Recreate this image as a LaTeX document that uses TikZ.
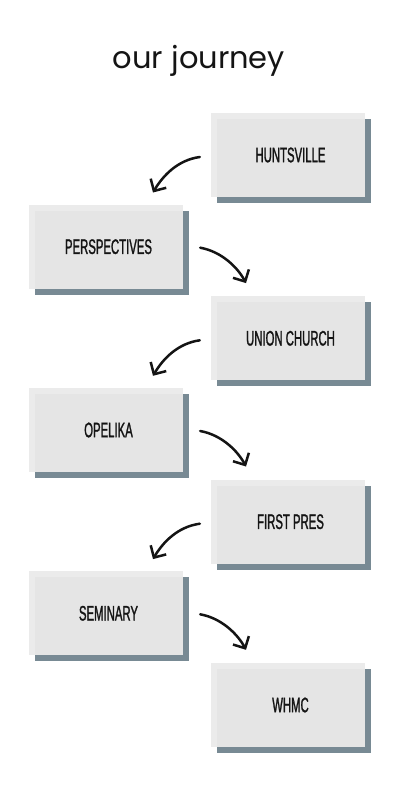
\documentclass[tikz,border=0pt]{standalone}
\usepackage{fontspec}
\usetikzlibrary{arrows.meta,shadows,calc}
\newfontfamily\titlefont{Poppins}
\newfontfamily\boxfont[FakeStretch=0.54,FakeBold=1.2]{Liberation Sans}
\definecolor{boxlight}{HTML}{EBEBEB}
\definecolor{boxmain}{HTML}{E5E5E5}
\definecolor{shadowcol}{HTML}{788A94}
\definecolor{ink}{HTML}{141414}
\begin{document}
\begin{tikzpicture}[x=1pt,y=-1pt,
  stepbox/.style={minimum width=154pt, minimum height=84pt, inner sep=0pt,
    fill=boxlight, text=ink,
    font=\boxfont\fontsize{21}{22}\selectfont,
    general shadow={fill=shadowcol, shadow xshift=6pt, shadow yshift=-6pt},
    path picture={\fill[boxmain] ([xshift=6pt]path picture bounding box.south west) rectangle ([yshift=-6pt]path picture bounding box.north east);}},
  titlestyle/.style={anchor=base, inner sep=0pt, text=ink, font=\titlefont\fontsize{30.5}{33}\selectfont},
  journey/.style={line width=2.5pt, line cap=round, draw=ink,
    -{Straight Barb[length=9pt,width=18pt]}}]
\useasboundingbox (0,0) rectangle (400,800);
\fill[white] (0,0) rectangle (400,800);
\node[titlestyle] (title) at (199,68) {our journey};

\node[stepbox] (n1) at (288,155)   {\hspace*{5pt}HUNTSVILLE};
\node[stepbox] (n2) at (106,246.7) {\hspace*{5pt}PERSPECTIVES};
\node[stepbox] (n3) at (288,338.3) {\hspace*{5pt}UNION CHURCH};
\node[stepbox] (n4) at (106,430)   {\hspace*{5pt}OPELIKA};
\node[stepbox] (n5) at (288,521.7) {\hspace*{5pt}FIRST PRES};
\node[stepbox] (n6) at (106,613.3) {\hspace*{5pt}SEMINARY};
\node[stepbox] (n7) at (288,705)   {\hspace*{5pt}WHMC};

\draw[journey] ($(n1.west)+(-11,2)$) .. controls +(-22,3) and +(10,-17) .. ($(n2.north)+(47,-12)$);
\draw[journey] ($(n3.west)+(-11,2)$) .. controls +(-22,3) and +(10,-17) .. ($(n4.north)+(47,-12)$);
\draw[journey] ($(n5.west)+(-11,2)$) .. controls +(-22,3) and +(10,-17) .. ($(n6.north)+(47,-12)$);

\draw[journey] ($(n2.east)+(17,1)$) .. controls +(22,4) and +(-8,-15) .. ($(n3.north)+(-42,-13)$);
\draw[journey] ($(n4.east)+(17,1)$) .. controls +(22,4) and +(-8,-15) .. ($(n5.north)+(-42,-13)$);
\draw[journey] ($(n6.east)+(17,1)$) .. controls +(22,4) and +(-8,-15) .. ($(n7.north)+(-42,-13)$);
\end{tikzpicture}
\end{document}
